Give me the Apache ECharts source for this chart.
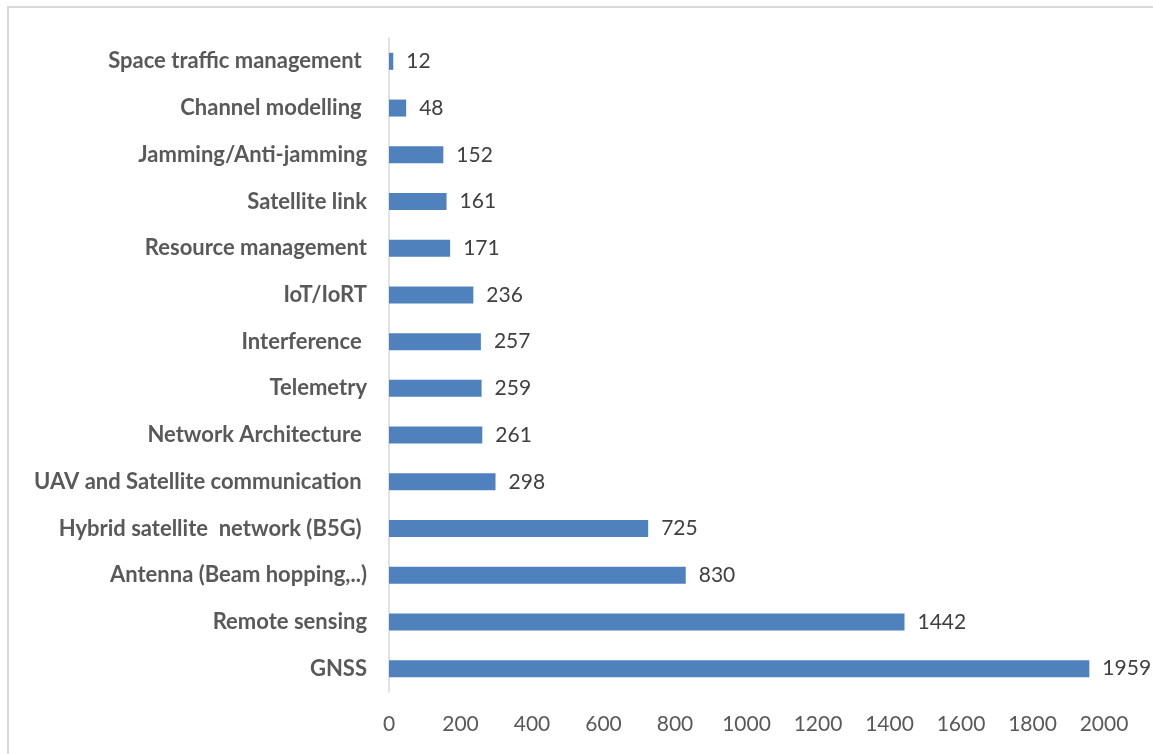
<!DOCTYPE html>
<html>
<head>
<meta charset="utf-8">
<script src="https://cdn.jsdelivr.net/npm/echarts@6/dist/echarts.min.js"></script>
<style>
html,body{margin:0;padding:0;background:#fff;}
#frame{position:absolute;left:7px;top:6px;width:1146px;height:748px;border-top:2px solid #d9d9d9;border-left:2px solid #d9d9d9;box-sizing:border-box;}
#chart{position:absolute;left:0;top:0;width:1153px;height:754px;}
</style>
</head>
<body>
<div id="frame"></div>
<div id="chart"></div>
<script>
const categories = [
  "Space traffic management ",
  "Channel modelling ",
  "Jamming/Anti-jamming",
  "Satellite link",
  "Resource management",
  "IoT/IoRT",
  "Interference ",
  "Telemetry",
  "Network Architecture ",
  "UAV and Satellite communication ",
  "Hybrid satellite  network (B5G) ",
  "Antenna (Beam hopping,..)",
  "Remote sensing",
  "GNSS"
];
const values = [12, 48, 152, 161, 171, 236, 257, 259, 261, 298, 725, 830, 1442, 1959];
const xTicks = { min: 0, max: 2000, interval: 200 };

const chart = echarts.init(document.getElementById('chart'), null, { renderer: 'canvas' });
chart.setOption({
  backgroundColor: 'transparent',
  animation: false,
  grid: { left: 389, right: 49, top: 38, bottom: 62, containLabel: false },
  xAxis: {
    type: 'value',
    min: xTicks.min, max: xTicks.max, interval: xTicks.interval,
    axisLine: { show: false },
    axisTick: { show: false },
    splitLine: { show: false },
    axisLabel: { color: '#595959', fontSize: 21, fontFamily: 'Lato, sans-serif', margin: 22,
      formatter: v => String(v) }
  },
  yAxis: {
    type: 'category',
    data: categories,
    inverse: true,
    axisLine: { show: true, lineStyle: { color: '#d9d9d9', width: 1.5 } },
    axisTick: { show: false },
    axisLabel: { color: '#595959', fontSize: 22, fontWeight: 'bold', fontFamily: 'Lato, sans-serif', margin: 22 }
  },
  series: [{
    type: 'bar',
    data: values,
    barWidth: 17,
    itemStyle: { color: '#4F81BD' },
    label: {
      show: true, position: 'right', distance: 13,
      color: '#404040', fontSize: 21, fontFamily: 'Lato, sans-serif'
    }
  }]
});
</script>
</body>
</html>
